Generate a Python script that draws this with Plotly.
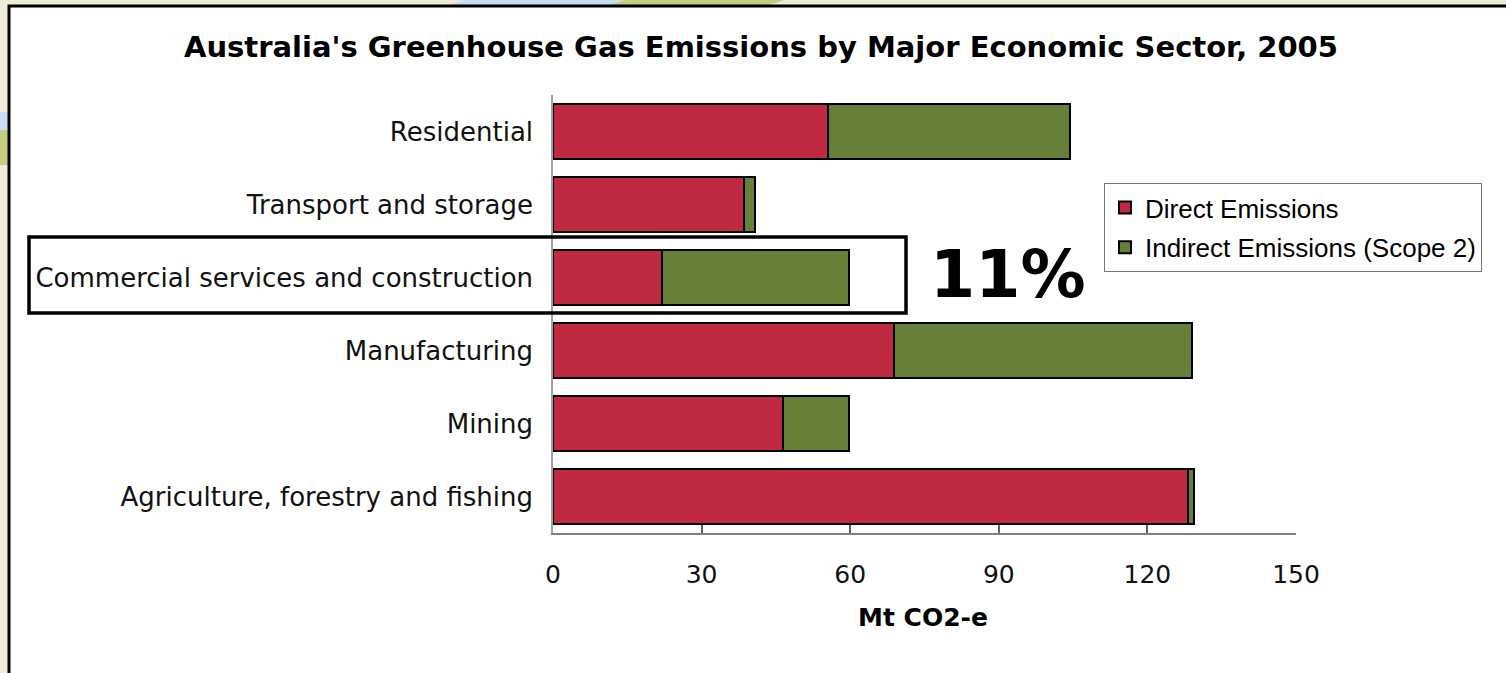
import plotly.graph_objects as go

# ---- data ----
sectors = ["Agriculture, forestry and fishing", "Mining", "Manufacturing",
           "Commercial services and construction", "Transport and storage", "Residential"]
direct = [128.2, 46.4, 68.8, 22.0, 38.6, 55.5]
indirect = [1.2, 13.3, 60.2, 37.8, 2.2, 48.9]
series_names = ["Direct Emissions", "Indirect Emissions (Scope 2)"]
x_ticks = [0, 30, 60, 90, 120, 150]
title_text = "Australia's Greenhouse Gas Emissions by Major Economic Sector, 2005"
x_title = "Mt CO2-e"
callout = "11%"

W, H = 1506, 673
L, R, T, B = 553, 1296, 95, 533  # plot area in pixels


def px(x):
    return (x - L) / (R - L)


def py(y):
    return (B - y) / (B - T)


RED = "#BF2A42"
GREEN = "#66803A"
BEIGE = "#EEEBD8"

fig = go.Figure()
fig.add_trace(go.Bar(y=sectors, x=direct, orientation="h", name=series_names[0],
                     legendgroup="a",
                     marker=dict(color=RED, line=dict(color="black", width=2))))
fig.add_trace(go.Bar(y=sectors, x=indirect, orientation="h", name=series_names[1],
                     legendgroup="b",
                     marker=dict(color=GREEN, line=dict(color="black", width=2))))

shapes = [
    # decorative background strips
    dict(type="path", xref="paper", yref="paper", layer="below", line=dict(width=0),
         fillcolor="#C9DCF2",
         path=f"M {px(480)},{py(-5)} L {px(640)},{py(-5)} L {px(600)},{py(8)} L {px(440)},{py(8)} Z"),
    dict(type="path", xref="paper", yref="paper", layer="below", line=dict(width=0),
         fillcolor="#C6CC80",
         path=f"M {px(640)},{py(-5)} L {px(800)},{py(-5)} L {px(760)},{py(8)} L {px(600)},{py(8)} Z"),
    dict(type="rect", xref="paper", yref="paper", layer="below", line=dict(width=0),
         fillcolor="#C9DCF2", x0=px(-5), x1=px(9), y0=py(130), y1=py(112)),
    dict(type="rect", xref="paper", yref="paper", layer="below", line=dict(width=0),
         fillcolor="#C6CC80", x0=px(-5), x1=px(9), y0=py(165), y1=py(130)),
    # white chart frame
    dict(type="rect", xref="paper", yref="paper", layer="below",
         line=dict(color="black", width=3), fillcolor="white",
         x0=px(9), x1=px(W + 10), y0=py(H + 10), y1=py(6)),
    # highlight box around commercial services
    dict(type="rect", xref="paper", yref="paper", layer="above",
         line=dict(color="black", width=3.5), fillcolor="rgba(0,0,0,0)",
         x0=px(29), x1=px(906), y0=py(313), y1=py(237)),
]

annotations = [
    dict(text=callout, xref="paper", yref="paper", x=px(1008), y=py(274),
         xanchor="center", yanchor="middle", showarrow=False,
         font=dict(family="DejaVu Sans", size=65, color="black", weight="bold")),
    dict(text=title_text, xref="paper", yref="paper", x=px(761), y=py(47),
         xanchor="center", yanchor="middle", showarrow=False,
         font=dict(family="DejaVu Sans", size=29, color="black", weight="bold")),
    dict(text=x_title, xref="paper", yref="paper", x=px(923), y=py(617),
         xanchor="center", yanchor="middle", showarrow=False,
         font=dict(family="DejaVu Sans", size=25, color="black", weight="bold")),
]

fig.update_layout(
    width=W, height=H,
    margin=dict(l=L, r=W - R, t=T, b=H - B, pad=0),
    paper_bgcolor=BEIGE,
    plot_bgcolor="rgba(0,0,0,0)",
    barmode="stack",
    bargap=0.26,
    showlegend=True,
    legend=dict(x=px(1104), y=py(183), xanchor="left", yanchor="top",
                bgcolor="white", bordercolor="#777777", borderwidth=1,
                font=dict(family="Liberation Sans", size=26, color="black"),
                traceorder="grouped", tracegroupgap=3,
                itemwidth=30),
    shapes=shapes,
    annotations=annotations,
    xaxis=dict(range=[0, 150], tickvals=x_ticks, ticktext=[str(v) for v in x_ticks],
               showgrid=False, zeroline=False, showline=True,
               linecolor="#808080", linewidth=2,
               ticks="inside", ticklen=8, tickwidth=1.5, tickcolor="#606060",
               ticklabelstandoff=18,
               tickfont=dict(family="DejaVu Sans", size=25, color="#111111")),
    yaxis=dict(categoryorder="array", categoryarray=sectors, range=[-0.5, 5.5],
               showgrid=False, zeroline=False, showline=True,
               linecolor="#A0A0A0", linewidth=1.5, ticks="",
               ticklabelstandoff=13,
               tickfont=dict(family="DejaVu Sans", size=26, color="#111111")),
)

fig.write_html("out.html",
               config={"displayModeBar": False},
               post_script="document.body.style.margin='0';document.body.style.overflow='hidden';")
